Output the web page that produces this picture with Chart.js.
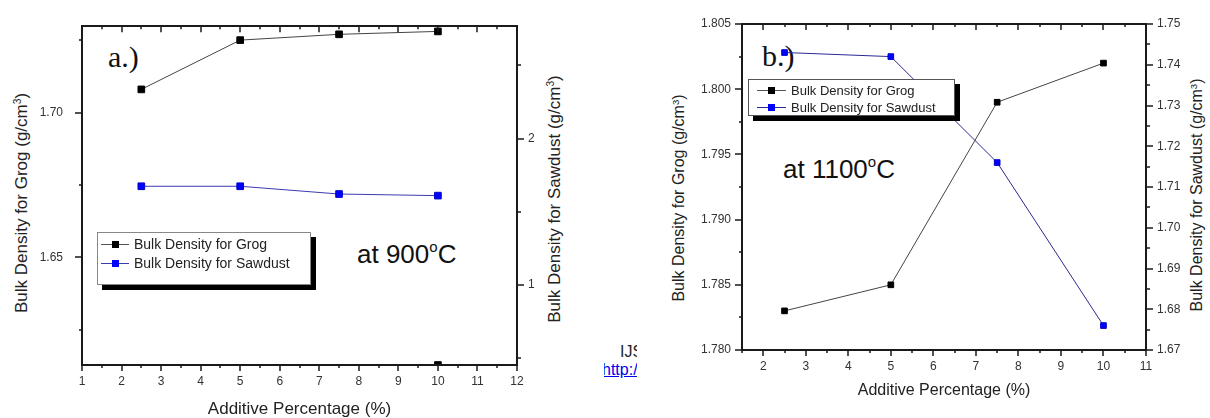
<!DOCTYPE html>
<html>
<head>
<meta charset="utf-8">
<script src="https://cdn.jsdelivr.net/npm/chart.js@4.4.1/dist/chart.umd.min.js"></script>
<style>
  html, body { margin: 0; padding: 0; background: #fff; }
  body {
    width: 1210px; height: 418px; position: relative; overflow: hidden;
    font-family: 'Liberation Sans', Arial, sans-serif; color: #222;
  }
  canvas { position: absolute; top: 0; z-index: 1; }
  #chartA { left: 0; }
  #chartB { left: 600px; }
  .note { position: absolute; white-space: nowrap; line-height: 1; z-index: 0; }
  .panel-tag { font-family: 'Liberation Serif', 'Times New Roman', serif; font-size: 30px; color: #111; }
  .temp { font-size: 26px; color: #111; }
  .temp sup { font-size: 15px; vertical-align: 0; position: relative; top: -11px; }
  .ytitle {
    position: absolute; white-space: nowrap; line-height: 1; z-index: 0;
    transform: translate(-50%, -50%) rotate(-90deg);
  }
  .ytitle sup { font-size: 0.6em; vertical-align: 0; position: relative; top: -0.55em; }
  .legend {
    position: absolute; background: #fff; border: 1px solid #888;
    box-shadow: 5px 5px 0 #000; z-index: 2; box-sizing: border-box;
  }
  .legend .row { position: absolute; left: 0; white-space: nowrap; line-height: 1; }
  .legend .sym { position: absolute; height: 1px; }
  .legend .sym i { position: absolute; top: -3px; width: 7px; height: 7px; }
  #clipText { position: absolute; left: 604px; top: 335px; width: 33px; height: 45px; overflow: hidden; z-index: 0; }
  #clipText span { position: absolute; white-space: nowrap; line-height: 1; font-size: 16px; }
</style>
</head>
<body>

<div class="note panel-tag" style="left:108px; top:42px;">a.)</div>
<div class="note temp" style="left:357px; top:241px;">at 900<sup>o</sup>C</div>
<div class="note panel-tag" style="left:762px; top:41px;">b.)</div>
<div class="note temp" style="left:783px; top:156px;">at 1100<sup>o</sup>C</div>

<div class="ytitle" style="left:21px; top:203px; font-size:17px;">Bulk Density for Grog (g/cm<sup>3</sup>)</div>
<div class="ytitle" style="left:554px; top:199px; font-size:17px;">Bulk Density for Sawdust (g/cm<sup>3</sup>)</div>
<div class="ytitle" style="left:679px; top:198px; font-size:16px;">Bulk Density for Grog (g/cm<sup>3</sup>)</div>
<div class="ytitle" style="left:1197px; top:195px; font-size:16px;">Bulk Density for Sawdust (g/cm<sup>3</sup>)</div>

<div id="clipText">
  <span style="left:16px; top:9px; color:#222;">IJSER</span>
  <span style="left:-2px; top:27px; color:#0000ee; text-decoration:underline;">http://www</span>
</div>

<canvas id="chartA" width="600" height="418"></canvas>
<canvas id="chartB" width="610" height="418"></canvas>

<div class="legend" style="left:97px; top:232px; width:214px; height:53px; font-size:14px;">
  <div class="row" style="top:4px;">
    <span class="sym" style="left:3px; top:7px; width:28px; background:#555;"><i style="left:11px; background:#000;"></i></span>
    <span style="position:absolute; left:36px;">Bulk Density for Grog</span>
  </div>
  <div class="row" style="top:23px;">
    <span class="sym" style="left:3px; top:7px; width:28px; background:#3a3ab0;"><i style="left:11px; background:#0000ff;"></i></span>
    <span style="position:absolute; left:36px;">Bulk Density for Sawdust</span>
  </div>
</div>

<div class="legend" style="left:748px; top:79px; width:207px; height:37px; font-size:13px; border-color:#555;">
  <div class="row" style="top:4px;">
    <span class="sym" style="left:8px; top:6px; width:29px; background:#555;"><i style="left:11px; background:#000;"></i></span>
    <span style="position:absolute; left:42px;">Bulk Density for Grog</span>
  </div>
  <div class="row" style="top:21px;">
    <span class="sym" style="left:8px; top:6px; width:29px; background:#2a2a90;"><i style="left:11px; background:#0000ff;"></i></span>
    <span style="position:absolute; left:42px;">Bulk Density for Sawdust</span>
  </div>
</div>

<script>
// Additive percentage (%) shared by every series
const additivePct = [2.5, 5, 7.5, 10];

// a.) fired at 900 C
const grog900 = [1.708, 1.725, 1.727, 1.728];
const sawdust900 = [1.674, 1.674, 1.621, 1.610];
// lone grog marker sitting on the bottom axis of panel a.)
const strayX900 = [10];
const strayGrog900 = [1.6129];

// b.) fired at 1100 C
const grog1100 = [1.783, 1.785, 1.799, 1.802];
const sawdust1100 = [1.743, 1.742, 1.716, 1.676];

// axis ranges: [min, max, minor step, major step, label decimals]
const xAxis900 = [1, 12, 0.5, 1, 0];
const grogAxis900 = [1.6129, 1.7298, 0.025, 0.05, 2];
const sawdustAxis900 = [0.4534, 2.767, 0.5, 1, 0];
const xAxis1100 = [1.5, 11, 0.5, 1, 0];
const grogAxis1100 = [1.780, 1.805, 0.0025, 0.005, 3];
const sawdustAxis1100 = [1.67, 1.75, 0.005, 0.01, 2];

const xTitle = 'Additive Percentage (%)';
const FONT = "'Liberation Sans', Arial, sans-serif";

// only label the major ticks, minor ones get an empty string
function majorOnly(step, digits) {
    return function(value) {
        const r = value / step;
        return Math.abs(r - Math.round(r)) < 1e-6 ? Number(value).toFixed(digits) : '';
    };
}

function isMajor(tick) {
    return tick.label !== '' && tick.label !== undefined && tick.label !== null;
}

// Origin style frame: box round the plot, ticks out on bottom/left/right, in on top
const frameTicks = {
    id: 'frameTicks',
    afterDraw(chart) {
        const ctx = chart.ctx;
        const a = chart.chartArea;
        const sx = chart.scales.x, sy = chart.scales.y, sy1 = chart.scales.y1;
        ctx.save();
        ctx.strokeStyle = '#1a1a1a';
        ctx.lineWidth = 2;
        ctx.strokeRect(Math.round(a.left), Math.round(a.top), Math.round(a.right - a.left), Math.round(a.bottom - a.top));
        ctx.lineWidth = 1.5;
        ctx.beginPath();
        sx.ticks.forEach(function(t) {
            const px = Math.round(sx.getPixelForValue(t.value));
            const big = isMajor(t);
            ctx.moveTo(px, a.bottom);
            ctx.lineTo(px, a.bottom + (big ? 6 : 3));
            ctx.moveTo(px, a.top);
            ctx.lineTo(px, a.top + (big ? 6 : 3));
        });
        sy.ticks.forEach(function(t) {
            const py = Math.round(sy.getPixelForValue(t.value));
            ctx.moveTo(a.left, py);
            ctx.lineTo(a.left - (isMajor(t) ? 7 : 3), py);
        });
        sy1.ticks.forEach(function(t) {
            const py = Math.round(sy1.getPixelForValue(t.value));
            ctx.moveTo(a.right, py);
            ctx.lineTo(a.right + (isMajor(t) ? 7 : 4), py);
        });
        ctx.stroke();
        ctx.restore();
    }
};

function axis(range, extra) {
    return Object.assign({
        type: 'linear',
        min: range[0],
        max: range[1],
        border: { display: false },
        grid: { display: true, drawOnChartArea: false, drawTicks: false },
        ticks: {
            stepSize: range[2],
            includeBounds: false,
            autoSkip: false,
            maxRotation: 0,
            color: '#333',
            font: { family: FONT, size: 12 },
            callback: majorOnly(range[3], range[4])
        }
    }, extra);
}

function buildChart(id, p) {
    const ctx = document.getElementById(id).getContext('2d');
    const pts = (xs, arr) => xs.map((x, i) => ({ x: x, y: arr[i] }));

    const xScale = axis(p.xr, {
        position: 'bottom',
        afterFit: s => { s.height = p.bottomH; },
        title: {
            display: true, text: xTitle, color: '#222',
            font: { family: FONT, size: p.titleSize, lineHeight: 1 },
            padding: { top: 0, bottom: p.titlePad }
        }
    });
    xScale.ticks.padding = 9;

    const yScale = axis(p.yr, { position: 'left', afterFit: s => { s.width = p.leftW; } });
    yScale.ticks.padding = p.yPad;
    const y1Scale = axis(p.y1r, { position: 'right', afterFit: s => { s.width = p.rightW; } });
    y1Scale.ticks.padding = 11;

    const datasets = [
        {
            label: 'Bulk Density for Grog',
            data: pts(additivePct, p.grog),
            yAxisID: 'y',
            borderColor: '#444',
            borderWidth: 1,
            pointStyle: 'rect',
            pointRadius: p.pointR,
            pointBackgroundColor: '#000',
            pointBorderColor: '#000',
            pointBorderWidth: 1
        },
        {
            label: 'Bulk Density for Sawdust',
            data: pts(additivePct, p.sawdust),
            yAxisID: 'y1',
            borderColor: p.blueLine,
            borderWidth: 1,
            pointStyle: 'rect',
            pointRadius: p.pointR,
            pointBackgroundColor: '#0000ff',
            pointBorderColor: '#0000cc',
            pointBorderWidth: 1
        }
    ];
    if (p.strayX) {
        datasets.push({
            label: 'stray',
            data: pts(p.strayX, p.strayY),
            yAxisID: 'y',
            showLine: false,
            clip: 0,
            pointStyle: 'rect',
            pointRadius: p.pointR,
            pointBackgroundColor: '#000',
            pointBorderColor: '#000'
        });
    }

    return new Chart(ctx, {
        type: 'line',
        data: { datasets: datasets },
        options: {
            responsive: false,
            animation: false,
            devicePixelRatio: 1,
            clip: false,
            layout: { padding: { top: p.top, left: 0, right: 0, bottom: 0 } },
            plugins: { legend: { display: false }, tooltip: { enabled: false } },
            scales: { x: xScale, y: yScale, y1: y1Scale }
        },
        plugins: [frameTicks]
    });
}

document.addEventListener('DOMContentLoaded', function() {
    buildChart('chartA', {
        grog: grog900, sawdust: sawdust900,
        strayX: strayX900, strayY: strayGrog900,
        xr: xAxis900, yr: grogAxis900, y1r: sawdustAxis900,
        top: 15, leftW: 82, rightW: 83, bottomH: 53,
        yPad: 19, titleSize: 17, titlePad: 0, pointR: 4.7,
        blueLine: '#3a3ab0'
    });
    buildChart('chartB', {
        grog: grog1100, sawdust: sawdust1100,
        xr: xAxis1100, yr: grogAxis1100, y1r: sawdustAxis1100,
        top: 24, leftW: 142, rightW: 64, bottomH: 68,
        yPad: 11, titleSize: 16, titlePad: 19, pointR: 4,
        blueLine: '#2a2a90'
    });
});
</script>
</body>
</html>
